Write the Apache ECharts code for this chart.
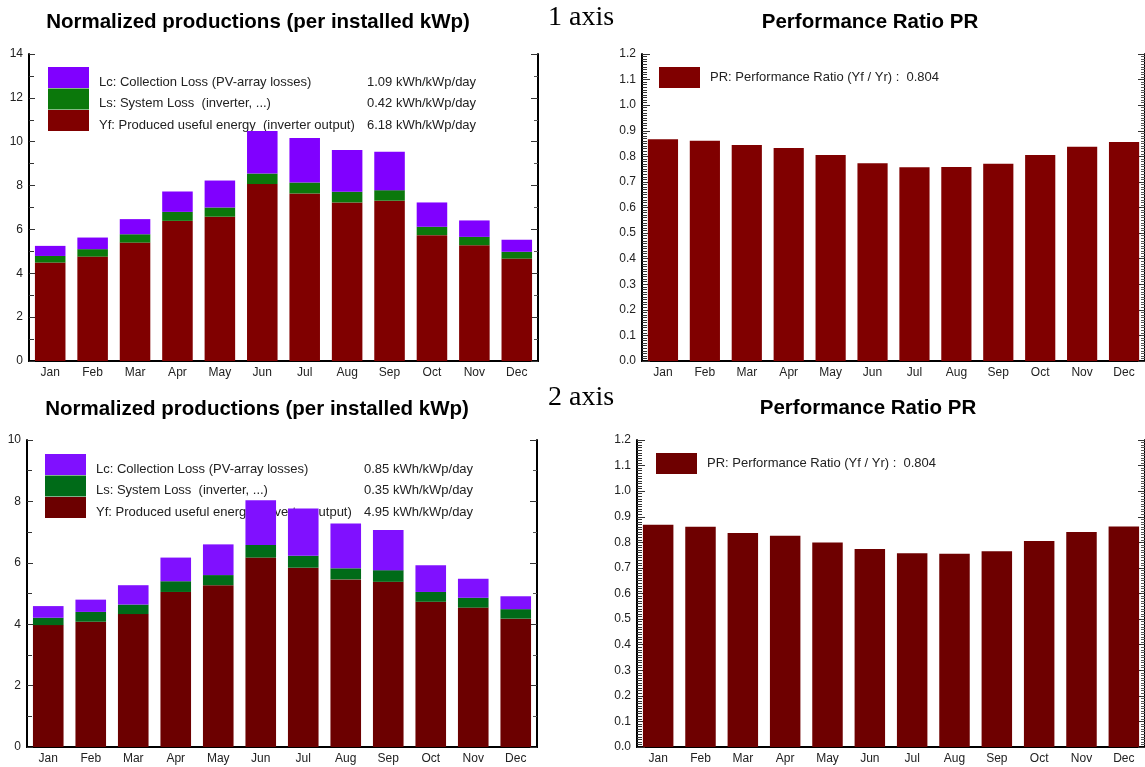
<!DOCTYPE html>
<html lang="en">
<head>
    <meta charset="UTF-8">
    <title>Normalized productions / Performance Ratio</title>
    <script src="https://cdn.jsdelivr.net/npm/echarts@6/dist/echarts.min.js"></script>
    <style>
        html, body { margin: 0; padding: 0; background: #fff; }
        #main { width: 1145px; height: 767px; }
    </style>
</head>
<body>
<div id="main"></div>

<script type="text/javascript">
    var months = ['Jan', 'Feb', 'Mar', 'Apr', 'May', 'Jun', 'Jul', 'Aug', 'Sep', 'Oct', 'Nov', 'Dec'];

    // 1 axis
    var yf1 = [4.49, 4.76, 5.40, 6.39, 6.58, 8.07, 7.64, 7.23, 7.31, 5.74, 5.28, 4.67];
    var ls1 = [0.30, 0.34, 0.38, 0.41, 0.42, 0.48, 0.50, 0.49, 0.48, 0.38, 0.38, 0.31];
    var lc1 = [0.46, 0.53, 0.69, 0.93, 1.23, 1.94, 2.03, 1.90, 1.75, 1.11, 0.75, 0.55];
    var pr1 = [0.867, 0.861, 0.844, 0.833, 0.805, 0.773, 0.757, 0.758, 0.771, 0.805, 0.837, 0.856];
    var avg1 = ['1.09 kWh/kWp/day', '0.42 kWh/kWp/day', '6.18 kWh/kWp/day'];

    // 2 axis
    var yf2 = [3.97, 4.08, 4.33, 5.05, 5.27, 6.17, 5.84, 5.46, 5.38, 4.73, 4.54, 4.18];
    var ls2 = [0.24, 0.32, 0.31, 0.35, 0.33, 0.41, 0.39, 0.36, 0.38, 0.32, 0.32, 0.31];
    var lc2 = [0.38, 0.40, 0.63, 0.77, 1.00, 1.46, 1.54, 1.46, 1.31, 0.87, 0.62, 0.42];
    var pr2 = [0.869, 0.861, 0.836, 0.826, 0.799, 0.774, 0.757, 0.755, 0.765, 0.805, 0.840, 0.862];
    var avg2 = ['0.85 kWh/kWp/day', '0.35 kWh/kWp/day', '4.95 kWh/kWp/day'];

    var lossNames = ['Lc: Collection Loss (PV-array losses)', 'Ls: System Loss  (inverter, ...)', 'Yf: Produced useful energy  (inverter output)'];
    var prName = 'PR: Performance Ratio (Yf / Yr) :  0.804';

    var font = 'Arial, "Liberation Sans", sans-serif';
    var labelStyle = { fontFamily: font, fontSize: 12, color: '#222' };

    var myChart = echarts.init(document.getElementById('main'));

    function xAxes(grid) {
        return [
            {
                type: 'category', gridIndex: grid, data: months, position: 'bottom',
                axisLine: { lineStyle: { color: '#000', width: 2 } },
                axisTick: { inside: true, length: 7, lineStyle: { color: '#333', width: 1.5 } },
                axisLabel: Object.assign({ margin: 6 }, labelStyle)
            },
            {
                type: 'category', gridIndex: grid, data: months, position: 'top',
                axisLine: { lineStyle: { color: '#000', width: 2 } },
                axisTick: { inside: true, length: 7, lineStyle: { color: '#333', width: 1.5 } },
                axisLabel: { show: false }
            }
        ];
    }

    function yAxes(grid, max, interval, minorSplit, isRatio) {
        return [
            {
                type: 'value', gridIndex: grid, min: 0, max: max, interval: interval, position: 'left',
                axisLine: { show: true, lineStyle: { color: '#000', width: 2 } },
                axisTick: { show: true, inside: true, length: isRatio ? 8 : 6, lineStyle: { color: '#333' } },
                minorTick: { show: true, splitNumber: minorSplit, length: 5, lineStyle: { color: '#333' } },
                splitLine: { show: false },
                axisLabel: Object.assign({
                    margin: 6,
                    formatter: function (v) { return isRatio ? v.toFixed(1) : v; }
                }, labelStyle)
            },
            {
                type: 'value', gridIndex: grid, min: 0, max: max, interval: interval, position: 'right',
                axisLine: { show: true, lineStyle: { color: '#000', width: 2 } },
                axisTick: { show: true, inside: true, length: 7, lineStyle: { color: '#333' } },
                minorTick: { show: true, splitNumber: minorSplit, length: 4, lineStyle: { color: '#555' } },
                splitLine: { show: false },
                axisLabel: { show: false }
            }
        ];
    }

    function lossSeries(names, data, colors, xi) {
        var out = [];
        for (var i = 0; i < 3; i++) {
            out.push({
                name: names[i], type: 'bar', stack: 's' + xi, xAxisIndex: xi, yAxisIndex: xi,
                data: data[i], barCategoryGap: '28%', z: 5,
                itemStyle: { color: colors[i] }, silent: true
            });
        }
        return out;
    }

    function lossLegend(left, top, names, avg, colors) {
        return {
            left: left, top: top, orient: 'vertical', padding: 0, itemGap: 0,
            itemWidth: 41, itemHeight: 21, icon: 'rect', selectedMode: false, z: 1,
            data: [
                { name: names[2], itemStyle: { color: colors[2] } },
                { name: names[1], itemStyle: { color: colors[1] } },
                { name: names[0], itemStyle: { color: colors[0] } }
            ],
            formatter: function (name) {
                var k = names.indexOf(name);
                return '{a|' + lossNames[2 - k] + '}{b|' + avg[2 - k] + '}';
            },
            textStyle: {
                fontFamily: font, fontSize: 13, color: '#222',
                rich: {
                    a: { fontFamily: font, fontSize: 13, color: '#222', width: 268, padding: [9, 0, 0, 5] },
                    b: { fontFamily: font, fontSize: 13, color: '#222', padding: [9, 0, 0, 0] }
                }
            }
        };
    }

    function prLegend(left, top, name, color) {
        return {
            left: left, top: top, padding: 0, itemWidth: 41, itemHeight: 21, icon: 'rect',
            selectedMode: false, z: 1,
            data: [{ name: name, itemStyle: { color: color } }],
            formatter: function () { return prName; },
            textStyle: { fontFamily: font, fontSize: 13, color: '#222', padding: [5, 0, 0, 5] }
        };
    }

    // Yf / Ls / Lc, bottom to top
    var colorsTop = ['#800000', '#0b780b', '#8000ff'];
    var colorsBot = ['#6c0000', '#006b18', '#8010ff'];
    var k1 = ['yf1', 'ls1', 'lc1'];
    var k2 = ['yf2', 'ls2', 'lc2'];

    var titleFont = 'bold 20.5px Arial, "Liberation Sans", sans-serif';
    var noteFont = '28px "Liberation Serif", "Times New Roman", serif';

    var option = {
        animation: false,
        backgroundColor: '#fff',
        grid: [
            { left: 29, top: 54, width: 509, height: 307 },
            { left: 642, top: 54, width: 508, height: 307 },
            { left: 27, top: 440, width: 510, height: 307 },
            { left: 637, top: 440, width: 508, height: 307 }
        ],
        xAxis: [].concat(xAxes(0), xAxes(1), xAxes(2), xAxes(3)),
        yAxis: [].concat(
            yAxes(0, 14, 2, 2, false),
            yAxes(1, 1.2, 0.1, 10, true),
            yAxes(2, 10, 2, 2, false),
            yAxes(3, 1.2, 0.1, 10, true)
        ),
        legend: [
            lossLegend(48, 67, k1, avg1, colorsTop),
            prLegend(659, 67, 'pr1', '#800000'),
            lossLegend(45, 454, k2, avg2, colorsBot),
            prLegend(656, 453, 'pr2', '#6e0000')
        ],
        series: [].concat(
            lossSeries(k1, [yf1, ls1, lc1], colorsTop, 0),
            [{ name: 'pr1', type: 'bar', xAxisIndex: 2, yAxisIndex: 2, data: pr1, barCategoryGap: '28%', z: 5, silent: true, itemStyle: { color: '#800000' } }],
            lossSeries(k2, [yf2, ls2, lc2], colorsBot, 4),
            [{ name: 'pr2', type: 'bar', xAxisIndex: 6, yAxisIndex: 6, data: pr2, barCategoryGap: '28%', z: 5, silent: true, itemStyle: { color: '#6e0000' } }]
        ),
        graphic: [
            { type: 'text', x: 258, y: 22, style: { text: 'Normalized productions (per installed kWp)', font: titleFont, fill: '#000', textAlign: 'center', textVerticalAlign: 'middle' } },
            { type: 'text', x: 870, y: 22, style: { text: 'Performance Ratio PR', font: titleFont, fill: '#000', textAlign: 'center', textVerticalAlign: 'middle' } },
            { type: 'text', x: 257, y: 409, style: { text: 'Normalized productions (per installed kWp)', font: titleFont, fill: '#000', textAlign: 'center', textVerticalAlign: 'middle' } },
            { type: 'text', x: 868, y: 408, style: { text: 'Performance Ratio PR', font: titleFont, fill: '#000', textAlign: 'center', textVerticalAlign: 'middle' } },
            { type: 'text', x: 548, y: 18, style: { text: '1 axis', font: noteFont, fill: '#000', textAlign: 'left', textVerticalAlign: 'middle' } },
            { type: 'text', x: 548, y: 398, style: { text: '2 axis', font: noteFont, fill: '#000', textAlign: 'left', textVerticalAlign: 'middle' } }
        ]
    };

    // x axes are paired per grid: bottom index 2g, top 2g+1; same for y (left, right)
    option.series.forEach(function (s) { s.yAxisIndex = s.xAxisIndex; });

    myChart.setOption(option);
</script>
</body>
</html>
